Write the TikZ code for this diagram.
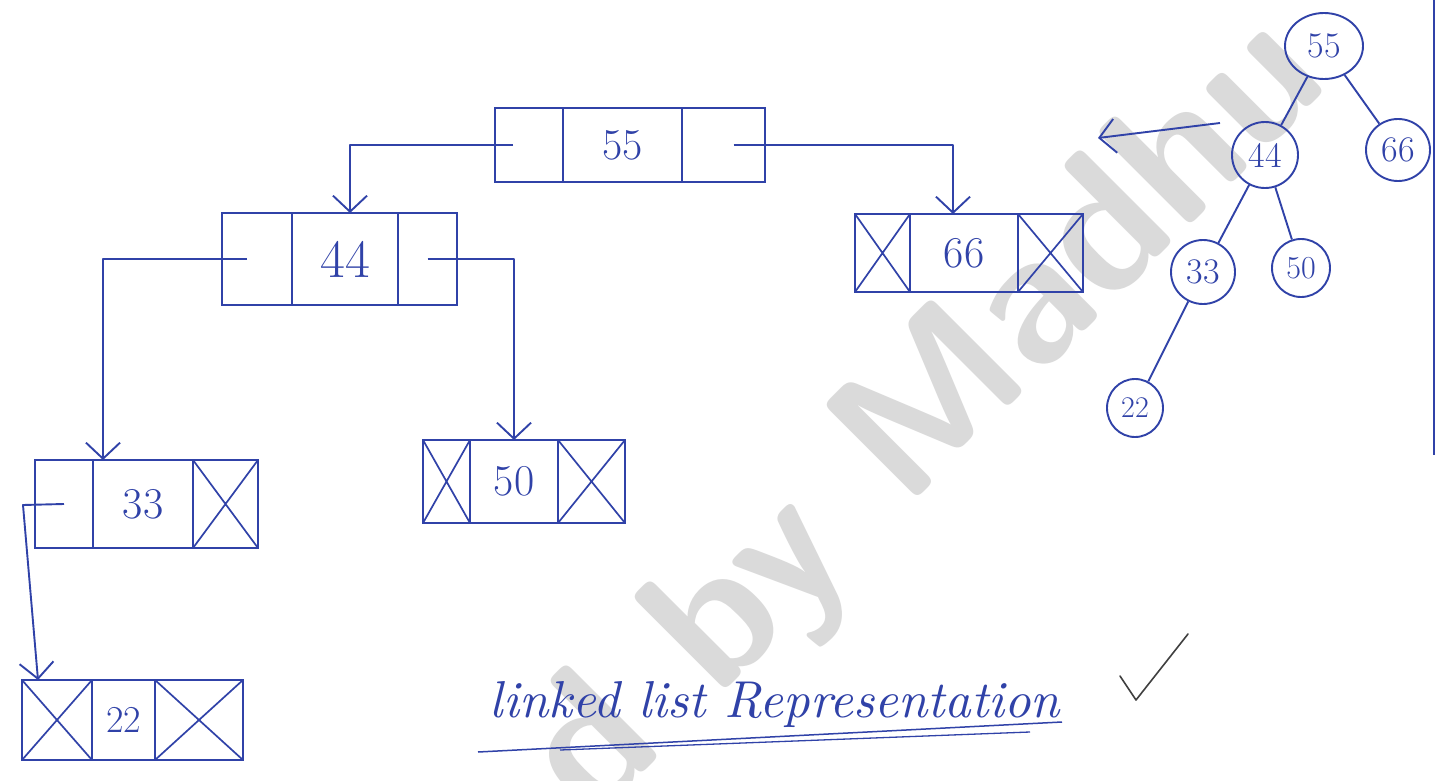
\documentclass[tikz,border=0pt]{standalone}
\usetikzlibrary{arrows.meta,shapes.geometric,calc}
\definecolor{ink}{RGB}{48,66,168}
\definecolor{wmark}{RGB}{218,218,218}
\tikzset{
  cell/.style={draw=ink, line width=1.9pt, inner sep=0pt, outer sep=0pt, text=ink,
               font=\fontsize{44}{44}\selectfont},
  xline/.style={draw=ink, line width=1.7pt},
  ptr/.style={draw=ink, line width=1.9pt, line join=round,
              -{Straight Barb[length=16pt,width=34pt,line width=1.9pt]}},
  tnode/.style={ellipse, draw=ink, line width=1.9pt, inner sep=0pt, text=ink,
                font=\fontsize{36}{36}\selectfont},
  tedge/.style={draw=ink, line width=1.9pt},
}
\newcommand\nullcell[1]{\draw[xline] (#1.north west) -- (#1.south east) (#1.north east) -- (#1.south west);}
\begin{document}
\begin{tikzpicture}[x=1pt,y=-1pt]
\useasboundingbox (0,0) rectangle (1441,781);
\fill[white] (0,0) rectangle (1441,781);
% watermark
\node[text=wmark, rotate=45, font=\fontsize{190}{190}\sffamily\bfseries\selectfont] (wm) at (930,420) {d by Madhu};

% list node 55
\node[cell, minimum width=68pt, minimum height=74pt] (L55l) at (529,145) {};
\node[cell, minimum width=119pt, minimum height=74pt] (L55d) at (622.5,145) {55};
\node[cell, minimum width=83pt, minimum height=74pt] (L55r) at (723.5,145) {};
% list node 44
\node[cell, minimum width=70pt, minimum height=92pt] (L44l) at (257,259) {};
\node[cell, minimum width=106pt, minimum height=92pt, font=\fontsize{54}{54}\selectfont] (L44d) at (345,259) {44};
\node[cell, minimum width=59pt, minimum height=92pt] (L44r) at (427.5,259) {};
% list node 66
\node[cell, minimum width=55pt, minimum height=78pt] (L66l) at (882.5,253) {};
\node[cell, minimum width=108pt, minimum height=78pt] (L66d) at (964,253) {66};
\node[cell, minimum width=65pt, minimum height=78pt] (L66r) at (1050.5,253) {};
% list node 33
\node[cell, minimum width=58pt, minimum height=88pt] (L33l) at (64,504) {};
\node[cell, minimum width=100pt, minimum height=88pt] (L33d) at (143,504) {33};
\node[cell, minimum width=65pt, minimum height=88pt] (L33r) at (225.5,504) {};
% list node 50
\node[cell, minimum width=47pt, minimum height=83pt] (L50l) at (446.5,481.5) {};
\node[cell, minimum width=88pt, minimum height=83pt] (L50d) at (514,481.5) {50};
\node[cell, minimum width=67pt, minimum height=83pt] (L50r) at (591.5,481.5) {};
% list node 22
\node[cell, minimum width=70pt, minimum height=80pt] (L22l) at (57,720) {};
\node[cell, minimum width=63pt, minimum height=80pt, font=\fontsize{38}{38}\selectfont] (L22d) at (123.5,720) {22};
\node[cell, minimum width=88pt, minimum height=80pt] (L22r) at (199,720) {};

% null links
\nullcell{L66l}\nullcell{L66r}
\nullcell{L33r}
\nullcell{L50l}\nullcell{L50r}
\nullcell{L22l}\nullcell{L22r}

% pointers
\draw[ptr] ([xshift=-16pt]L55l.center) -| ([xshift=5pt]L44d.north);
\draw[ptr] ([xshift=10pt]L55r.center) -| ([xshift=-11pt]L66d.north);
\draw[ptr] ([xshift=-10pt]L44l.center) -| ([xshift=10pt]L33d.north west);
\draw[ptr] (L44r.center) -| (L50d.north);
\coordinate (c33) at (23,505);
\draw[ptr] (L33l.center) -- (c33) -- ([xshift=16pt]L22l.north west);

% tree
\node[tnode, minimum width=78pt, minimum height=66pt] (T55) at (1324,46) {55};
\node[tnode, minimum width=66pt, minimum height=66pt] (T44) at (1265,155) {44};
\node[tnode, minimum width=64pt, minimum height=62pt] (T66) at (1398,150) {66};
\node[tnode, minimum width=64pt, minimum height=64pt] (T33) at (1203,272) {33};
\node[tnode, minimum width=58pt, minimum height=58pt, font=\fontsize{32}{32}\selectfont] (T50) at (1301,268) {50};
\node[tnode, minimum width=56pt, minimum height=58pt, font=\fontsize{30}{30}\selectfont] (T22) at (1135,408) {22};
\draw[tedge] (T55) -- (T44);
\draw[tedge] (T55) -- (T66);
\draw[tedge] (T44) -- (T33);
\draw[tedge] (T44) -- (T50);
\draw[tedge] (T33) -- (T22);

% arrow from tree towards the list
\coordinate (arT) at (1220,123);
\coordinate (arH) at (1098,138);
\draw[ptr] (arT) -- (arH);

% right margin line
\coordinate (rm1) at (1434,0);
\coordinate (rm2) at (1434,455);
\draw[ink, line width=1.6pt] (rm1) -- (rm2);

% caption
\node[text=ink, inner sep=0pt] (cap) at (775,705)
  {\resizebox{570pt}{!}{\itshape linked list Representation}};
\coordinate (u1a) at (478,752);
\coordinate (u1b) at (1062,722);
\coordinate (u2a) at (560,750);
\coordinate (u2b) at (1030,732);
\draw[ink, line width=1.5pt] (u1a) -- (u1b);
\draw[ink, line width=1.3pt] (u2a) -- (u2b);
% check mark
\coordinate (ck1) at (1120,676);
\coordinate (ck2) at (1136,700);
\coordinate (ck3) at (1188,634);
\draw[black!75, line width=1.6pt, line join=round, line cap=round] (ck1) -- (ck2) -- (ck3);
\end{tikzpicture}
\end{document}
